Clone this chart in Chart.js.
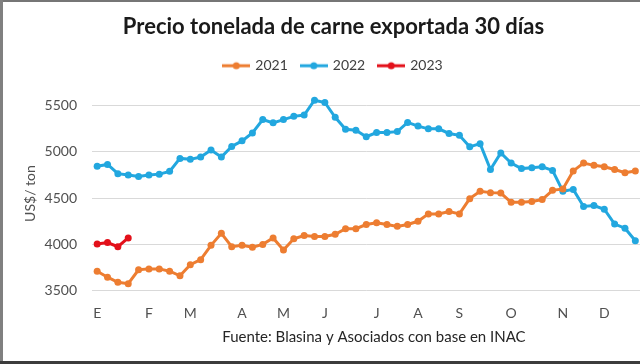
<!DOCTYPE html>
<html>
<head>
<meta charset="utf-8">
<script src="https://cdn.jsdelivr.net/npm/chart.js@4/dist/chart.umd.min.js"></script>
<style>
  html, body { margin: 0; padding: 0; background: #fff; overflow: hidden; }
  #box { position: absolute; left: 0; top: 0; width: 644px; height: 361px; }
  .edge { position: absolute; pointer-events: none; }
</style>
</head>
<body>
<div id="box"><canvas id="chart"></canvas></div>
<div class="edge" style="left:0;top:0;width:640px;height:2px;background:#767676"></div>
<div class="edge" style="left:0;top:0;width:3px;height:364px;background:#808080"></div>
<div class="edge" style="left:0;top:361px;width:640px;height:3px;background:#3c3c3c"></div>
<script>
// semanas del año, con la inicial del mes donde empieza
const weeks = [
	'E', '', '', '', '', 'F', '', '', '', 'M', '', '', '', '', 'A', '', '', '',
	'M', '', '', '', 'J', '', '', '', '', 'J', '', '', '', 'A', '', '', '',
	'S', '', '', '', '', 'O', '', '', '', '', 'N', '', '', '', 'D', '', '', '',
];

const years = ['2021', '2022', '2023'];
const colors = ['#ED7D31', '#22A7DF', '#E3101A'];

const price2021 = [
	3710, 3645, 3590, 3575, 3725, 3735, 3735, 3710, 3660, 3780, 3835, 3990, 4120,
	3975, 3990, 3970, 4000, 4070, 3940, 4060, 4095, 4085, 4085, 4110, 4170, 4170,
	4215, 4235, 4215, 4195, 4215, 4250, 4330, 4330, 4355, 4330, 4495, 4575, 4560,
	4555, 4455, 4455, 4465, 4485, 4585, 4600, 4795, 4880, 4855, 4840, 4810, 4775, 4795,
];
const price2022 = [
	4845, 4865, 4765, 4750, 4735, 4750, 4760, 4790, 4930, 4920, 4945, 5020, 4945,
	5060, 5120, 5205, 5350, 5315, 5350, 5385, 5400, 5560, 5535, 5375, 5245, 5235,
	5165, 5210, 5210, 5220, 5320, 5280, 5250, 5250, 5200, 5180, 5055, 5090, 4810,
	4990, 4880, 4820, 4830, 4840, 4800, 4575, 4595, 4410, 4420, 4380, 4220, 4175, 4040,
];
const price2023 = [4005, 4020, 3975, 4070];

const yTicks = [3500, 4000, 4500, 5000, 5500];

const font = 'Lato, Carlito, Calibri, sans-serif';
const gray = '#505050';

// icono de leyenda: línea con punto
function legendIcon(color) {
	let c = document.createElement('canvas');
	c.width = 28;
	c.height = 10;
	let ctx = c.getContext('2d');
	ctx.strokeStyle = color;
	ctx.lineWidth = 3;
	ctx.beginPath();
	ctx.moveTo(0, 5);
	ctx.lineTo(28, 5);
	ctx.stroke();
	ctx.fillStyle = color;
	ctx.beginPath();
	ctx.arc(14, 5, 3.5, 0, Math.PI * 2);
	ctx.fill();
	return c;
}

function series(i, values) {
	return {
		label: years[i],
		data: values,
		borderColor: colors[i],
		backgroundColor: colors[i],
		borderWidth: 3,
		pointRadius: 3.5,
		pointBorderWidth: 0,
		pointHoverRadius: 3.5,
		tension: 0,
		clip: false,
	};
}

new Chart(document.getElementById('chart'), {
	type: 'line',
	data: {
		labels: weeks,
		datasets: [
			series(0, price2021),
			series(1, price2022),
			series(2, price2023),
		],
	},
	options: {
		responsive: true,
		maintainAspectRatio: false,
		animation: false,
		events: [],
		layout: {
			padding: {left: 26, right: 3, top: 0, bottom: 0},
		},
		plugins: {
			title: {
				display: true,
				text: 'Precio tonelada de carne exportada 30 días',
				color: '#1a1a1a',
				weight: 2000,
				font: {family: font, size: 22, weight: 'bold', lineHeight: 1.2},
				padding: {top: 13.5, bottom: 4.8},
			},
			legend: {
				position: 'top',
				weight: 1000,
				labels: {
					usePointStyle: true,
					pointStyleWidth: 24,
					padding: 14,
					color: '#404040',
					font: {family: font, size: 14},
					generateLabels(chart) {
						let items = Chart.defaults.plugins.legend.labels.generateLabels(chart);
						items.forEach(item => {
							item.pointStyle = legendIcon(colors[item.datasetIndex]);
						});
						return items;
					},
				},
			},
			// espacio entre la leyenda y el gráfico
			subtitle: {
				display: true,
				text: '',
				weight: 500,
				font: {size: 10, lineHeight: 1},
				padding: {top: 2, bottom: 1.8},
			},
			tooltip: {enabled: false},
		},
		scales: {
			x: {
				offset: true,
				grid: {display: false, drawTicks: false},
				border: {display: false},
				ticks: {
					autoSkip: false,
					maxRotation: 0,
					padding: 0,
					color: gray,
					font: {family: font, size: 14, lineHeight: 3.2},
				},
				title: {
					display: true,
					text: '    Fuente: Blasina y Asociados con base en INAC',
					color: '#262626',
					font: {family: font, size: 15, lineHeight: 1.2},
					padding: {top: -7.4, bottom: 15},
				},
			},
			y: {
				min: 3500,
				max: 5600,
				afterBuildTicks(scale) {
					scale.ticks = yTicks.map(value => ({value}));
				},
				afterFit(scale) {
					scale.width = 66;
				},
				grid: {color: '#d9d9d9', lineWidth: 1, drawTicks: false},
				border: {display: false},
				ticks: {
					padding: 15,
					color: gray,
					font: {family: font, size: 14},
					callback: value => String(value),
				},
				title: {
					display: true,
					text: 'US$/ ton',
					color: gray,
					font: {family: font, size: 14, lineHeight: 1.2},
					padding: {top: -4, bottom: 0},
				},
			},
		},
	},
});
</script>
</body>
</html>
